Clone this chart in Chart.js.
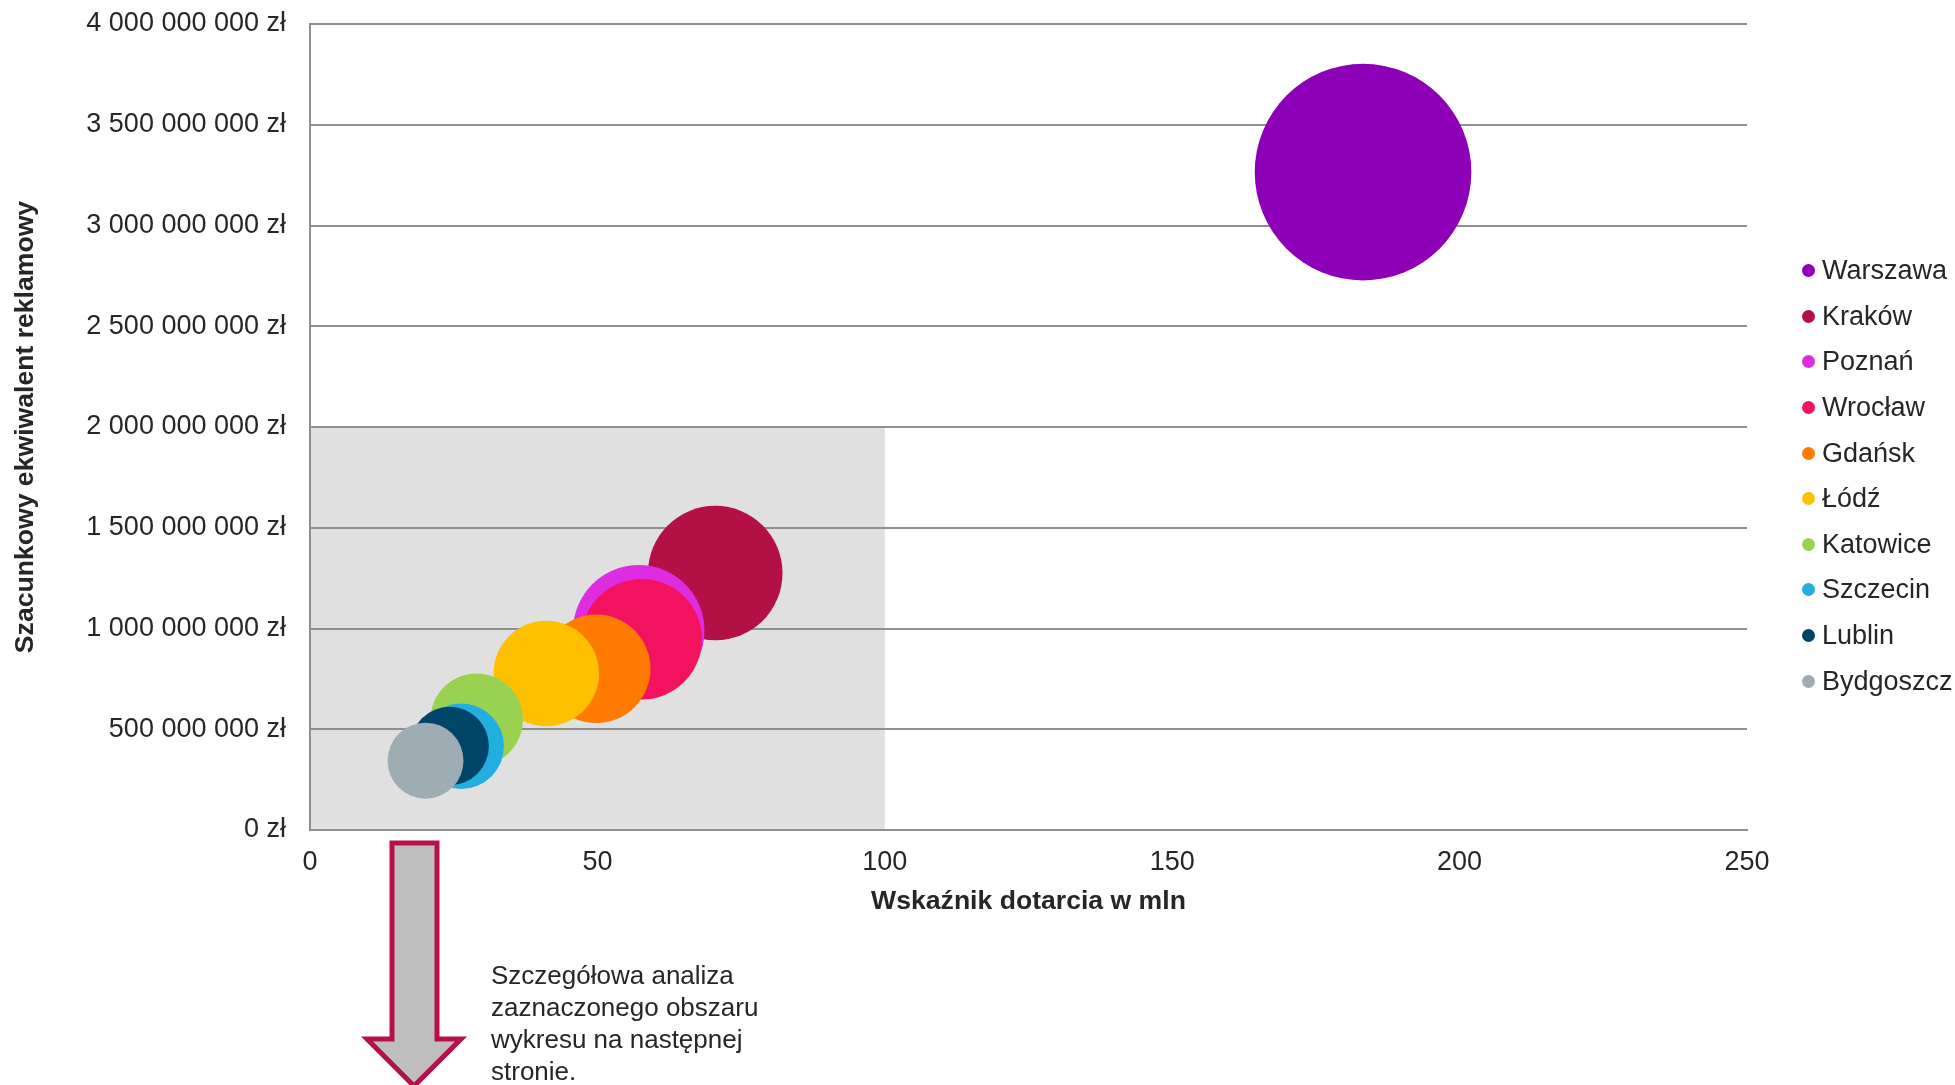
<!DOCTYPE html>
<html lang="pl">
<head>
<meta charset="utf-8">
<title>Wskaźnik dotarcia a ekwiwalent reklamowy</title>
<script src="https://cdn.jsdelivr.net/npm/chart.js@4.4.1/dist/chart.umd.min.js"></script>
<style>
  html, body { margin: 0; padding: 0; background: #fff; }
  #wrap {
    position: relative; width: 1955px; height: 1085px; overflow: hidden;
    font-family: "Liberation Sans", Arial, sans-serif; color: #262626;
  }
  #chart { position: absolute; left: 0; top: 0; }
  #legend { position: absolute; left: 1802px; top: 248px; margin: 0; padding: 0; list-style: none; }
  #legend li { display: flex; align-items: center; height: 45.6px; font-size: 27px; white-space: nowrap; }
  #legend .dot { width: 13px; height: 13px; border-radius: 50%; margin-right: 7px; flex: none; }
  #arrow { position: absolute; left: 0; top: 0; pointer-events: none; }
  #note { position: absolute; left: 491px; top: 959px; font-size: 26px; line-height: 32px; }
</style>
</head>
<body>
<div id="wrap">
  <canvas id="chart" width="1955" height="1085"></canvas>
  <ul id="legend"></ul>
  <svg id="arrow" width="1955" height="1085">
    <polygon points="392,843 437,843 437,1039 461,1039 414,1086 367,1039 392,1039"
             fill="#bfbfbf" stroke="#b5124a" stroke-width="5" stroke-linejoin="miter"/>
  </svg>
  <div id="note">Szczegółowa analiza<br>zaznaczonego obszaru<br>wykresu na następnej<br>stronie.</div>
</div>
<script>
// dane
const miasta = ["Warszawa", "Kraków", "Poznań", "Wrocław", "Gdańsk", "Łódź", "Katowice", "Szczecin", "Lublin", "Bydgoszcz"];
const dotarcie = [183.2, 70.5, 57.2, 57.7, 49.8, 41.1, 29.0, 26.3, 24.3, 20.1]; // mln
const ekwiwalent = [3265000000, 1275000000, 989000000, 947000000, 800000000, 777000000, 547000000, 416000000, 417000000, 344000000];
const wielkosc = [100, 38.6, 36.8, 31.0, 25.1, 23.7, 18.2, 15.6, 13.1, 12.3]; // względna wielkość bąbla
const kolory = ["#8e00b8", "#b31145", "#de2de0", "#f31260", "#ff7b00", "#ffc000", "#99d150", "#22afdf", "#004468", "#9eadb4"];

const tickiX = [0, 50, 100, 150, 200, 250];
const tickiY = [0, 500000000, 1000000000, 1500000000, 2000000000, 2500000000, 3000000000, 3500000000, 4000000000];
const obszarX = [0, 100];
const obszarY = [0, 2000000000];

const R_MAX = 108.3;
const maxWielkosc = Math.max(...wielkosc);

// liczby w formacie "4 000 000 000 zł"
const formatZl = (v) => String(v).replace(/\B(?=(\d{3})+(?!\d))/g, " ") + " zł";

// szare tło zaznaczonego obszaru
const obszarPlugin = {
  id: "obszar",
  beforeDraw(chart) {
    const { ctx, scales: { x, y } } = chart;
    const x0 = x.getPixelForValue(obszarX[0]);
    const x1 = x.getPixelForValue(obszarX[1]);
    const y0 = y.getPixelForValue(obszarY[0]);
    const y1 = y.getPixelForValue(obszarY[1]);
    ctx.save();
    ctx.fillStyle = "#e0e0e0";
    ctx.fillRect(x0, y1, x1 - x0, y0 - y1);
    ctx.restore();
  },
};

Chart.defaults.font.family = "'Liberation Sans', Arial, sans-serif";
Chart.defaults.font.size = 26;
Chart.defaults.color = "#262626";

const datasets = miasta.map((m, i) => ({
  label: m,
  data: [{ x: dotarcie[i], y: ekwiwalent[i], r: R_MAX * Math.sqrt(wielkosc[i] / maxWielkosc) }],
  backgroundColor: kolory[i],
  borderWidth: 0,
  order: miasta.length - i,
}));

new Chart(document.getElementById("chart"), {
  type: "bubble",
  data: { datasets },
  plugins: [obszarPlugin],
  options: {
    responsive: false,
    animation: false,
    events: [],
    layout: { autoPadding: false, padding: { top: 24, right: 208, left: 0, bottom: 0 } },
    plugins: { legend: { display: false }, tooltip: { enabled: false } },
    scales: {
      x: {
        type: "linear",
        min: tickiX[0],
        max: tickiX[tickiX.length - 1],
        afterBuildTicks: (s) => { s.ticks = tickiX.map((v) => ({ value: v })); },
        afterFit: (s) => { s.height = 255; },
        grid: { display: false, drawTicks: false },
        border: { color: "#8f8f8f", width: 2 },
        ticks: { padding: 16, font: { size: 27 } },
        title: {
          display: true,
          text: "Wskaźnik dotarcia w mln",
          font: { size: 26.6, weight: "bold" },
          padding: { top: 0, bottom: 167 },
        },
      },
      y: {
        type: "linear",
        min: tickiY[0],
        max: tickiY[tickiY.length - 1],
        afterBuildTicks: (s) => { s.ticks = tickiY.map((v) => ({ value: v })); },
        afterFit: (s) => { s.width = 310; s.paddingTop = 0; s.paddingBottom = 0; },
        grid: { color: "#8f8f8f", lineWidth: 2, drawTicks: false },
        border: { color: "#8f8f8f", width: 2 },
        ticks: { padding: 24, font: { size: 27 }, callback: (v) => formatZl(v) },
        title: {
          display: true,
          text: "Szacunkowy ekwiwalent reklamowy",
          font: { size: 26.6, weight: "bold" },
          padding: { top: 10, bottom: 0 },
        },
      },
    },
  },
});

// legenda
const legend = document.getElementById("legend");
miasta.forEach((m, i) => {
  const li = document.createElement("li");
  li.innerHTML = `<span class="dot" style="background:${kolory[i]}"></span>${m}`;
  legend.appendChild(li);
});
</script>
</body>
</html>
